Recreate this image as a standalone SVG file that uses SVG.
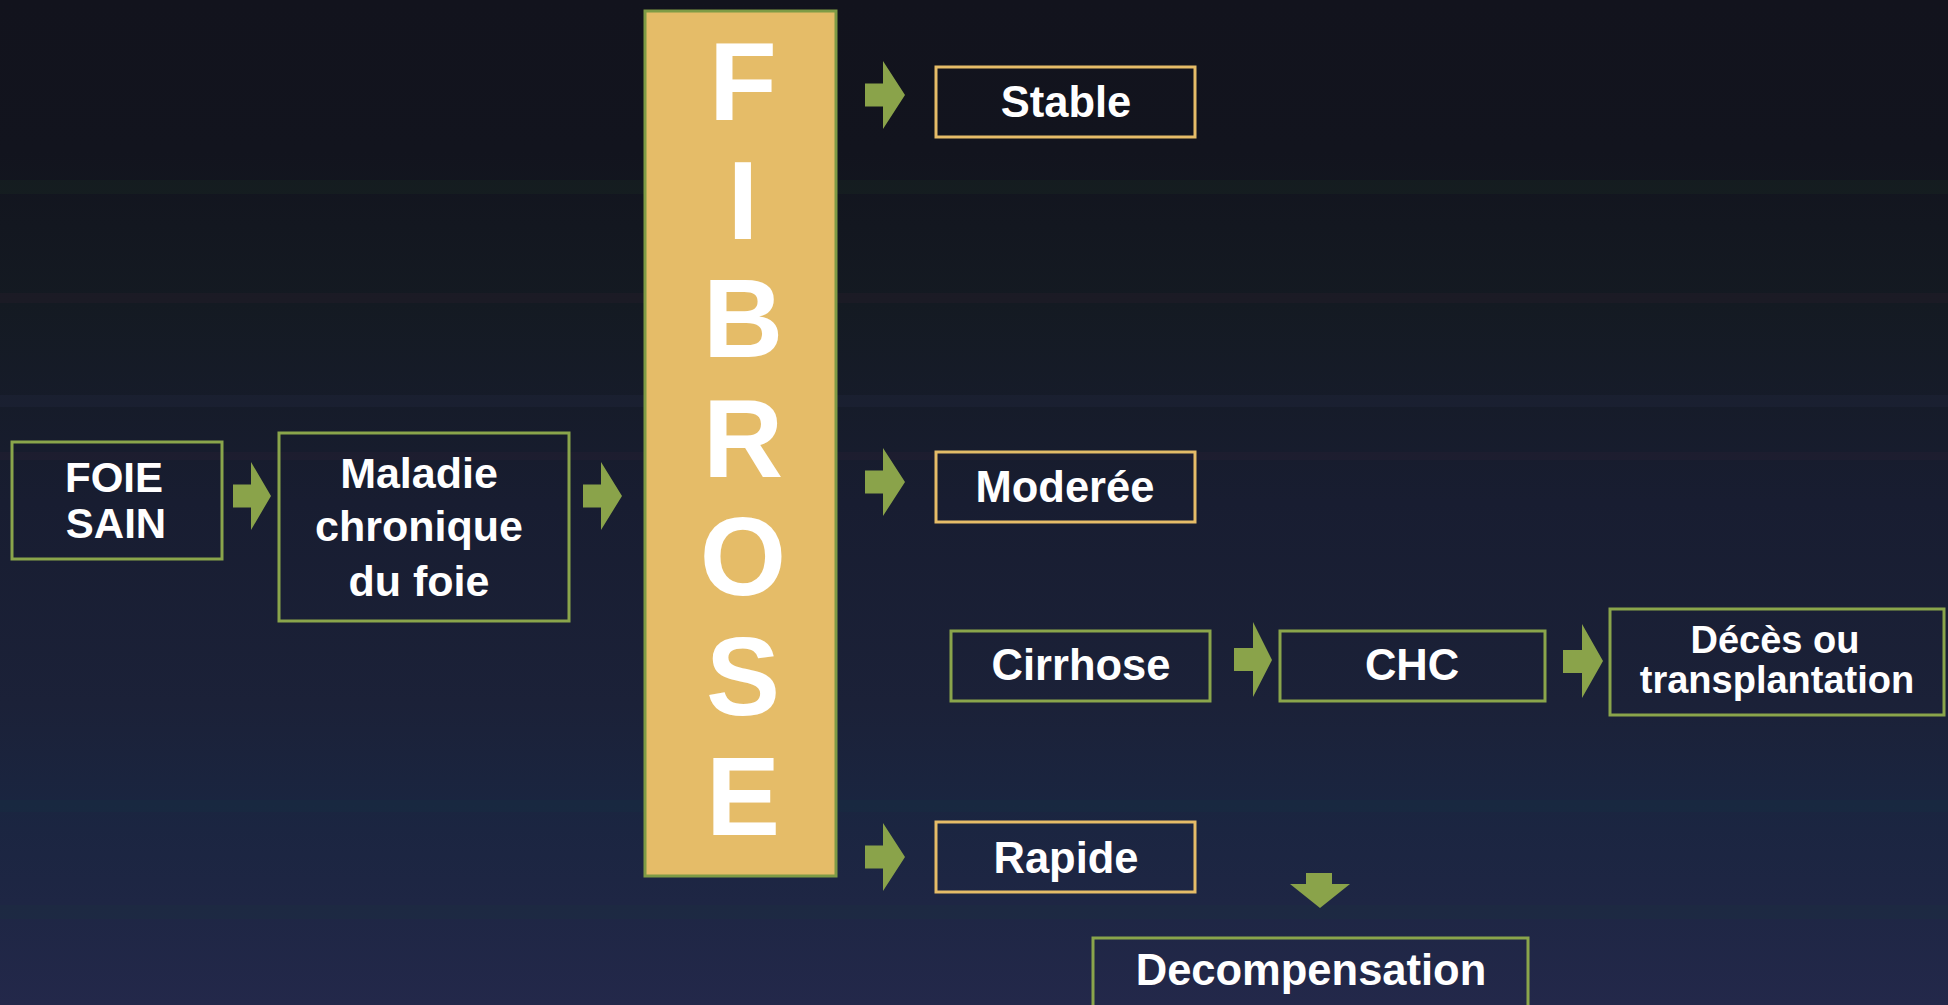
<svg xmlns="http://www.w3.org/2000/svg" width="1948" height="1005" viewBox="0 0 1948 1005">
<defs>
<linearGradient id="bg" x1="0" y1="0" x2="0" y2="1">
<stop offset="0" stop-color="#12131d"/>
<stop offset="0.15" stop-color="#12141e"/>
<stop offset="0.3" stop-color="#141a22"/>
<stop offset="0.5" stop-color="#181d31"/>
<stop offset="0.7" stop-color="#1b2138"/>
<stop offset="0.8" stop-color="#1a2540"/>
<stop offset="0.9" stop-color="#1e2644"/>
<stop offset="1" stop-color="#23284a"/>
</linearGradient>
<style>
.g{fill:none;stroke:#8aa54b;stroke-width:3}
.o{fill:none;stroke:#e5bc68;stroke-width:3}
.t{font-family:"Liberation Sans",Arial,sans-serif;font-weight:bold;fill:#ffffff;text-anchor:middle;font-size:43.5px}
.big{font-size:111px}
.arr{fill:#8aa34a}
</style>
</defs>
<rect width="1948" height="1005" fill="url(#bg)"/>
<g opacity="0.35">
<rect x="0" y="180" width="1948" height="14" fill="#1a2a22"/>
<rect x="0" y="293" width="1948" height="10" fill="#2a1e2c"/>
<rect x="0" y="395" width="1948" height="12" fill="#23283e"/>
<rect x="0" y="452" width="1948" height="8" fill="#2a2035"/>
<rect x="0" y="800" width="1948" height="12" fill="#163042"/>
<rect x="0" y="905" width="1948" height="14" fill="#1c3040"/>
</g>

<g id="fibrose">
<rect x="645" y="11" width="191" height="865" fill="#e5bc68" stroke="#7e9b45" stroke-width="3"/>
<text class="t big" x="743" y="120">F</text>
<text class="t big" x="743" y="239">I</text>
<text class="t big" x="743" y="357">B</text>
<text class="t big" x="743" y="477">R</text>
<text class="t big" x="743" y="595">O</text>
<text class="t big" x="743" y="715">S</text>
<text class="t big" x="743" y="835">E</text>
</g>

<g id="foie-sain">
<rect class="g" x="12" y="442" width="210" height="117"/>
<text class="t" x="114" y="492" style="font-size:42px">FOIE</text>
<text class="t" x="116" y="538" style="font-size:42px">SAIN</text>
</g>

<g id="maladie">
<rect class="g" x="279" y="433" width="290" height="188"/>
<text class="t" x="419" y="488" style="font-size:43px">Maladie</text>
<text class="t" x="419" y="541" style="font-size:43px">chronique</text>
<text class="t" x="419" y="596" style="font-size:43px">du foie</text>
</g>

<g id="stable">
<rect class="o" x="936" y="67" width="259" height="70"/>
<text class="t" x="1066" y="117">Stable</text>
</g>

<g id="moderee">
<rect class="o" x="936" y="452" width="259" height="70"/>
<text class="t" x="1065" y="502">Moderée</text>
</g>

<g id="cirrhose">
<rect class="g" x="951" y="631" width="259" height="70"/>
<text class="t" x="1081" y="680">Cirrhose</text>
</g>

<g id="chc">
<rect class="g" x="1280" y="631" width="265" height="70"/>
<text class="t" x="1412" y="680">CHC</text>
</g>

<g id="deces">
<rect class="g" x="1610" y="609" width="334" height="106"/>
<text class="t" x="1775" y="653" style="font-size:38px">Décès ou</text>
<text class="t" x="1777" y="693" style="font-size:38px">transplantation</text>
</g>

<g id="rapide">
<rect class="o" x="936" y="822" width="259" height="70"/>
<text class="t" x="1066" y="873">Rapide</text>
</g>

<g id="decompensation">
<rect class="g" x="1093" y="938" width="435" height="85"/>
<text class="t" x="1311" y="985">Decompensation</text>
</g>

<g id="connectors">
<polygon class="arr" points="233,484.5 251,484.5 251,462 271,496 251,530 251,507.5 233,507.5"/>
<polygon class="arr" points="583,484.5 601,484.5 601,462 622,496 601,530 601,507.5 583,507.5"/>
<polygon class="arr" points="865,83.5 883,83.5 883,61 905,95 883,129 883,106.5 865,106.5"/>
<polygon class="arr" points="865,470.5 883,470.5 883,448 905,482 883,516 883,493.5 865,493.5"/>
<polygon class="arr" points="865,845.5 883,845.5 883,823 905,857 883,891 883,868.5 865,868.5"/>
<polygon class="arr" points="1234,648 1253,648 1253,622 1272,660 1253,697 1253,671 1234,671"/>
<polygon class="arr" points="1563,650 1582,650 1582,624 1603,661 1582,698 1582,673 1563,673"/>
<polygon class="arr" points="1306,873 1332,873 1332,884 1350,884 1320,908 1290,884 1306,884"/>
</g>
</svg>
